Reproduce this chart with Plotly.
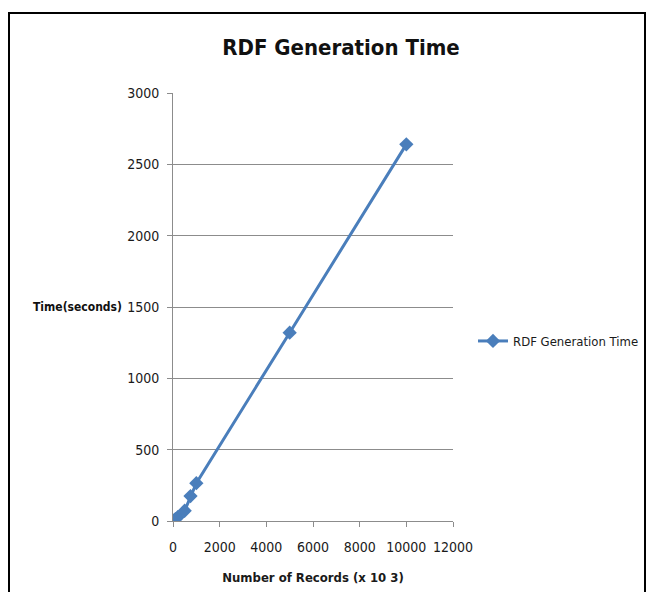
import plotly.graph_objects as go

# Records processed (thousands) and RDF generation time (seconds)
records = [10, 100, 200, 500, 750, 1000, 5000, 10000]
seconds = [2, 13, 27, 72, 175, 265, 1320, 2640]

x_ticks = [0, 2000, 4000, 6000, 8000, 10000, 12000]
y_ticks = [0, 500, 1000, 1500, 2000, 2500, 3000]

FONT = "DejaVu Sans Condensed, Liberation Sans, sans-serif"
BLUE = "#4A7EBB"
GRID = "#8C8C8C"

W, H = 655, 592
L, R, T, B = 173, 202, 93, 71
pw, ph = W - L - R, H - T - B


def px_to_paper_x(px):
    return (px - L) / pw


def px_to_paper_y(py):
    return (H - B - py) / ph


fig = go.Figure()
fig.add_trace(go.Scatter(
    x=records, y=seconds, mode="lines+markers",
    name="RDF Generation Time",
    line=dict(color=BLUE, width=3),
    marker=dict(symbol="diamond", size=11, color=BLUE),
))

fig.update_layout(
    width=W, height=H,
    margin=dict(l=L, r=R, t=T, b=B, autoexpand=False),
    paper_bgcolor="white", plot_bgcolor="white",
    font=dict(family=FONT, size=14, color="#1a1a1a"),
    title=dict(text="<b>RDF Generation Time</b>", x=px_to_paper_x(341), xref="paper",
               xanchor="center", y=1 - 47 / H, yanchor="middle",
               font=dict(family=FONT, size=22, color="#111111")),
    showlegend=True,
    legend=dict(x=px_to_paper_x(473), y=px_to_paper_y(341), xanchor="left", yanchor="middle",
                font=dict(family=FONT, size=13, color="#1a1a1a"), bgcolor="rgba(0,0,0,0)"),
    xaxis=dict(range=[0, 12000], tickvals=x_ticks, ticktext=[str(v) for v in x_ticks],
               tickangle=0, ticklabelstandoff=8,
               showgrid=False, zeroline=False, showline=True, linecolor=GRID, linewidth=1,
               ticks="outside", ticklen=5, tickcolor=GRID,
               title=dict(text="<b>Number of Records (x 10 3)</b>", standoff=19,
                          font=dict(family=FONT, size=13))),
    yaxis=dict(range=[0, 3000], tickvals=y_ticks, ticktext=[str(v) for v in y_ticks],
               ticklabelstandoff=5,
               showgrid=True, gridcolor=GRID, gridwidth=1, zeroline=False,
               showline=True, linecolor=GRID, linewidth=1,
               ticks="outside", ticklen=5, tickcolor=GRID),
    annotations=[dict(text="<b>Time(seconds)</b>", x=px_to_paper_x(124), y=px_to_paper_y(307),
                      xref="paper", yref="paper", xanchor="right", yanchor="middle",
                      showarrow=False, font=dict(family=FONT, size=12, color="#111111"))],
    shapes=[dict(type="rect", xref="paper", yref="paper",
                 x0=px_to_paper_x(9), x1=px_to_paper_x(645),
                 y0=px_to_paper_y(610), y1=px_to_paper_y(13),
                 line=dict(color="black", width=2), fillcolor="rgba(0,0,0,0)", layer="below")],
)

fig.write_html("out.html")
